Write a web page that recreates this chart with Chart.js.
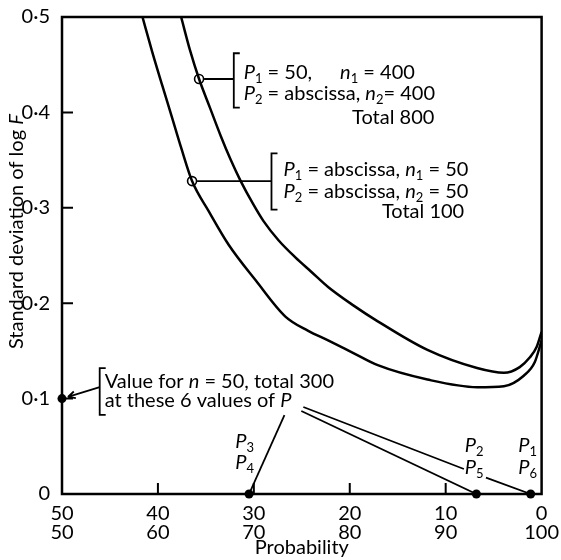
<!DOCTYPE html>
<html>
<head>
<meta charset="utf-8">
<script src="https://cdn.jsdelivr.net/npm/chart.js@4.4.1/dist/chart.umd.min.js"></script>
<style>
  html, body { margin: 0; padding: 0; background: #fff; }
</style>
</head>
<body>
<canvas id="chart" width="561" height="560"></canvas>
<script>
// axis ticks (lower row of x labels = P, upper row = 100 - P)
const xTicks = [50, 60, 70, 80, 90, 100];
const yTicks = [0, 0.1, 0.2, 0.3, 0.4, 0.5];

// curve: P1 = 50, n1 = 400 / P2 = abscissa, n2 = 400 (Total 800)
const total800X = [62.42, 63.35, 64.29, 65.42, 66.56, 67.6, 68.63, 69.98, 71.01, 72.57, 74.33, 75.98, 77.74, 80.33, 82.92, 88.1, 93.27, 96.07, 97.72, 98.76, 99.48, 100];
const total800Y = [0.5, 0.465, 0.435, 0.405, 0.375, 0.35, 0.328, 0.303, 0.286, 0.266, 0.248, 0.233, 0.217, 0.198, 0.181, 0.151, 0.132, 0.127, 0.133, 0.143, 0.154, 0.17];

// curve: P1 = P2 = abscissa, n1 = n2 = 50 (Total 100)
const total100X = [58.39, 59.42, 60.46, 61.49, 62.42, 63.56, 65.32, 67.39, 70.19, 73.29, 75.67, 77.74, 80.33, 82.92, 88.1, 93.27, 96.07, 98.14, 99.28, 100];
const total100Y = [0.5, 0.463, 0.428, 0.394, 0.363, 0.328, 0.296, 0.261, 0.224, 0.186, 0.171, 0.161, 0.148, 0.135, 0.12, 0.112, 0.113, 0.124, 0.138, 0.161];

// open rings marking where each bracket label points
const ringX = [64.29, 63.56];
const ringY = [0.435, 0.328];

// n = 50, total 300 values at the 6 values of P
const dotX = [50, 69.5, 93.2, 98.86];
const dotY = [0.1, 0, 0, 0];

const FONT = 'Lato, "Open Sans", sans-serif';
const fontN = '20px ' + FONT;
const fontI = 'italic 20px ' + FONT;
const fontS = '13px ' + FONT;

const pts = (xs, ys) => xs.map((x, i) => ({ x, y: ys[i] }));

// leader lines from the bottom label to the dots
const leader1 = [{ x: 73.19, y: 0.0828 }, { x: dotX[1], y: dotY[1] }];
const leader2 = [{ x: 75.16, y: 0.0912 }, { x: 91.9, y: 0.0262 }, { x: 93, y: null }, { x: 94.2, y: 0.0172 }, { x: dotX[3], y: dotY[3] }];
const leader3 = [{ x: 74.95, y: 0.087 }, { x: dotX[2], y: dotY[2] }];

function lineSet(data, width) {
  return {
    data, showLine: true, borderColor: '#000', borderWidth: width,
    pointRadius: 0, fill: false, spanGaps: false
  };
}

// text pieces: [text, kind] with kind n = normal, i = italic, s = subscript
function setFont(ctx, kind) {
  ctx.font = kind === 'i' ? fontI : kind === 's' ? fontS : fontN;
}
function richWidth(ctx, parts) {
  let w = 0;
  parts.forEach(([t, k]) => { setFont(ctx, k); w += ctx.measureText(t).width; });
  return w;
}
function drawRich(ctx, parts, x, y, align) {
  let cx = x;
  if (align === 'right') cx = x - richWidth(ctx, parts);
  if (align === 'center') cx = x - richWidth(ctx, parts) / 2;
  ctx.textAlign = 'left';
  ctx.textBaseline = 'middle';
  parts.forEach(([t, k]) => {
    setFont(ctx, k);
    ctx.fillText(t, cx, k === 's' ? y + 6 : y);
    cx += ctx.measureText(t).width;
  });
}

const notes = [
  { x: 68.94, y: 0.442, parts: [['P', 'i'], ['1', 's'], [' = 50,', 'n']] },
  { x: 78.99, y: 0.442, parts: [['n', 'i'], ['1', 's'], [' = 400', 'n']] },
  { x: 68.94, y: 0.42, parts: [['P', 'i'], ['2', 's'], [' = abscissa, ', 'n'], ['n', 'i'], ['2', 's'], ['= 400', 'n']] },
  { x: 88.82, y: 0.395, align: 'right', parts: [['Total 800', 'n']] },
  { x: 73.09, y: 0.34, parts: [['P', 'i'], ['1', 's'], [' = abscissa, ', 'n'], ['n', 'i'], ['1', 's'], [' = 50', 'n']] },
  { x: 73.09, y: 0.317, parts: [['P', 'i'], ['2', 's'], [' = abscissa, ', 'n'], ['n', 'i'], ['2', 's'], [' = 50', 'n']] },
  { x: 91.93, y: 0.296, align: 'right', parts: [['Total 100', 'n']] },
  { x: 54.45, y: 0.118, parts: [['Value for ', 'n'], ['n', 'i'], [' = 50, total 300', 'n']] },
  { x: 54.45, y: 0.0975, parts: [['at these 6 values of ', 'n'], ['P', 'i']] },
  { x: 69.05, y: 0.0545, align: 'center', parts: [['P', 'i'], ['3', 's']] },
  { x: 69.05, y: 0.0325, align: 'center', parts: [['P', 'i'], ['4', 's']] },
  { x: 92.96, y: 0.0503, align: 'center', parts: [['P', 'i'], ['2', 's']] },
  { x: 92.96, y: 0.0273, align: 'center', parts: [['P', 'i'], ['5', 's']] },
  { x: 98.55, y: 0.0503, align: 'center', parts: [['P', 'i'], ['1', 's']] },
  { x: 98.55, y: 0.0273, align: 'center', parts: [['P', 'i'], ['6', 's']] }
];

// brackets: x, y top, y bottom, and the ring they connect to (if any)
const brackets = [
  { x: 67.91, y1: 0.462, y2: 0.405, ring: 0 },
  { x: 71.84, y1: 0.357, y2: 0.298, ring: 1 },
  { x: 53.93, y1: 0.132, y2: 0.083, ring: -1 }
];

const framePlugin = {
  id: 'frame',
  afterDatasetsDraw(chart) {
    const { ctx, chartArea: a, scales: { x, y } } = chart;
    ctx.save();
    ctx.strokeStyle = '#000';
    ctx.lineWidth = 2.5;
    ctx.strokeRect(a.left, a.top, a.right - a.left, a.bottom - a.top);
    // inward tick marks
    ctx.lineWidth = 2;
    ctx.beginPath();
    xTicks.slice(1, -1).forEach(v => {
      const px = x.getPixelForValue(v);
      ctx.moveTo(px, a.bottom); ctx.lineTo(px, a.bottom - 11);
    });
    yTicks.slice(1, -1).forEach(v => {
      const py = y.getPixelForValue(v);
      ctx.moveTo(a.left, py); ctx.lineTo(a.left + 11, py);
    });
    ctx.stroke();

    // y axis title with italic F
    ctx.fillStyle = '#000';
    ctx.translate(17, y.getPixelForValue(0.275));
    ctx.rotate(-Math.PI / 2);
    drawRich(ctx, [['Standard deviation of log ', 'n'], ['F', 'i']], 0, 0, 'center');
    ctx.restore();
  }
};

const notesPlugin = {
  id: 'notes',
  afterDatasetsDraw(chart) {
    const { ctx, scales: { x, y } } = chart;
    ctx.save();
    ctx.fillStyle = '#000';
    ctx.strokeStyle = '#000';
    ctx.lineWidth = 1.8;
    brackets.forEach(b => {
      const bx = x.getPixelForValue(b.x);
      const t = y.getPixelForValue(b.y1), btm = y.getPixelForValue(b.y2);
      ctx.beginPath();
      ctx.moveTo(bx + 6, t); ctx.lineTo(bx, t); ctx.lineTo(bx, btm); ctx.lineTo(bx + 6, btm);
      if (b.ring >= 0) {
        const ry = y.getPixelForValue(ringY[b.ring]);
        ctx.moveTo(x.getPixelForValue(ringX[b.ring]) + 5, ry);
        ctx.lineTo(bx, ry);
      }
      ctx.stroke();
    });
    // arrow from the lower bracket to the dot on the y axis
    const ax = x.getPixelForValue(53.93), ay = y.getPixelForValue(0.112);
    const tx = x.getPixelForValue(50.62), ty = y.getPixelForValue(0.1017);
    ctx.beginPath();
    ctx.moveTo(ax, ay); ctx.lineTo(tx, ty);
    const ang = Math.atan2(ty - ay, tx - ax);
    ctx.moveTo(tx, ty); ctx.lineTo(tx - 8 * Math.cos(ang - 0.45), ty - 8 * Math.sin(ang - 0.45));
    ctx.moveTo(tx, ty); ctx.lineTo(tx - 8 * Math.cos(ang + 0.45), ty - 8 * Math.sin(ang + 0.45));
    ctx.stroke();

    notes.forEach(n => drawRich(ctx, n.parts, x.getPixelForValue(n.x), y.getPixelForValue(n.y), n.align));
    ctx.restore();
  }
};

new Chart(document.getElementById('chart'), {
  type: 'scatter',
  data: {
    datasets: [
      Object.assign(lineSet(pts(total800X, total800Y), 2.5), { cubicInterpolationMode: 'monotone' }),
      Object.assign(lineSet(pts(total100X, total100Y), 2.5), { cubicInterpolationMode: 'monotone' }),
      lineSet(leader1, 1.8),
      lineSet(leader2, 1.8),
      lineSet(leader3, 1.8),
      {
        data: pts(ringX, ringY), pointRadius: 4.5, pointBorderWidth: 1.6,
        pointBorderColor: '#000', pointBackgroundColor: 'rgba(255,255,255,0)'
      },
      {
        data: pts(dotX, dotY), pointRadius: 4.5, pointBorderWidth: 0,
        pointBackgroundColor: '#000', clip: false
      }
    ]
  },
  options: {
    responsive: false,
    animation: false,
    layout: { padding: { left: 0, right: 16, top: 17, bottom: 0 } },
    plugins: { legend: { display: false }, tooltip: { enabled: false } },
    scales: {
      x: {
        type: 'linear', min: 50, max: 100,
        afterBuildTicks: s => { s.ticks = xTicks.map(v => ({ value: v })); },
        afterFit: s => { s.height = 66; },
        grid: { display: false }, border: { display: false },
        ticks: {
          callback: v => [String(100 - v), String(v)],
          font: { family: FONT, size: 20, lineHeight: 0.95 }, color: '#000',
          padding: 2, maxRotation: 0, autoSkip: false
        },
        title: {
          display: true, text: 'Probability', color: '#000',
          font: { family: FONT, size: 20 }, padding: { top: 0, bottom: 0 }
        }
      },
      y: {
        min: 0, max: 0.5,
        afterBuildTicks: s => { s.ticks = yTicks.map(v => ({ value: v })); },
        afterFit: s => { s.width = 62; },
        grid: { display: false }, border: { display: false },
        ticks: {
          callback: v => v === 0 ? '0' : v.toFixed(1).replace('.', '·'),
          font: { family: FONT, size: 20 }, color: '#000', padding: 4
        }
      }
    }
  },
  plugins: [framePlugin, notesPlugin]
});
</script>
</body>
</html>
